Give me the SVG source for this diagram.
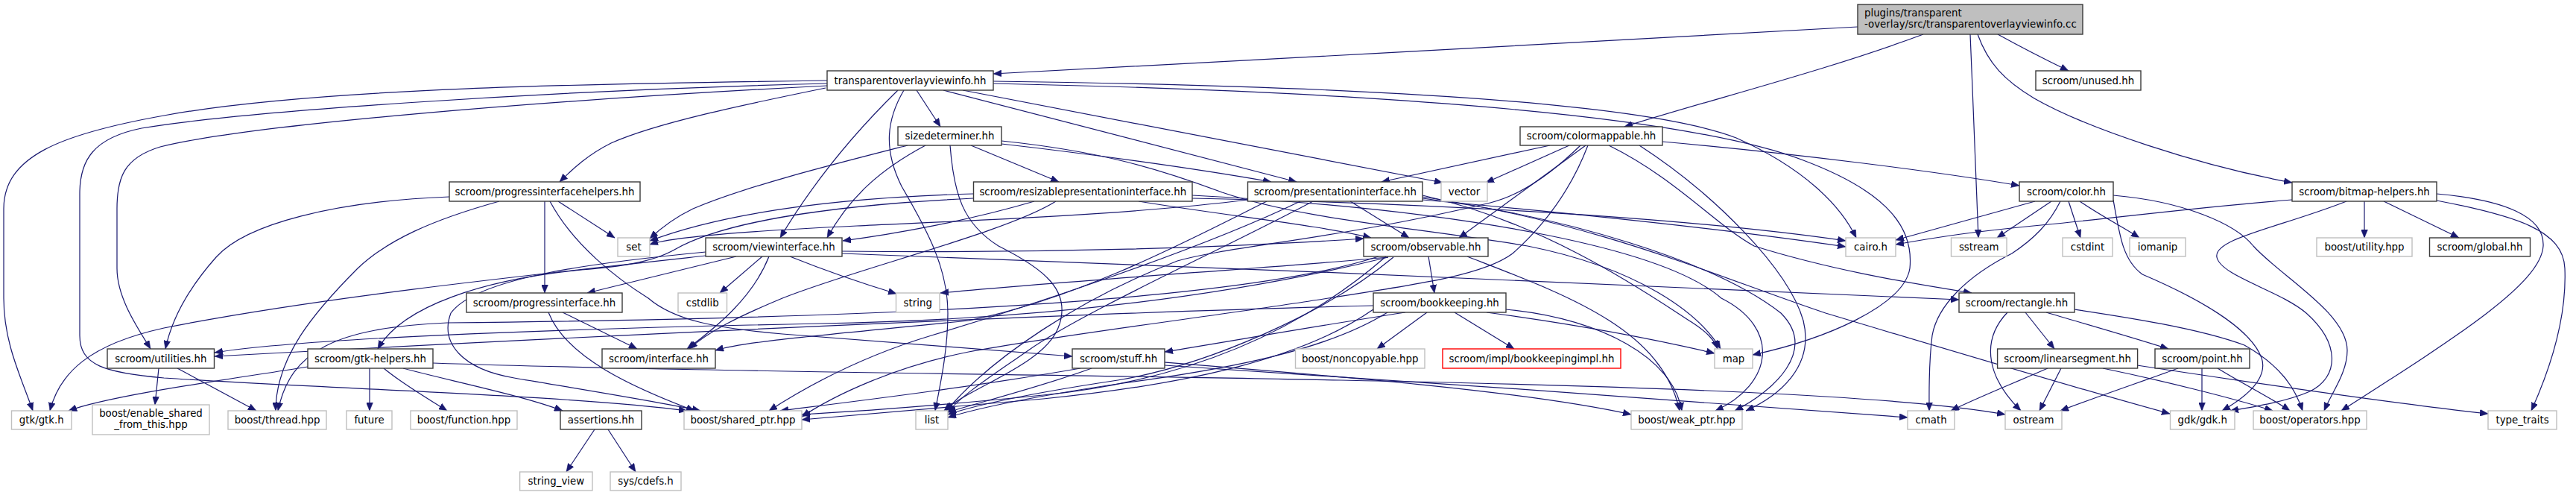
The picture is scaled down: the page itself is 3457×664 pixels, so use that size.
<svg xmlns="http://www.w3.org/2000/svg" width="3457" height="664" viewBox="0 0 3457 664">
<defs>
<style>
.n rect{fill:#fff;stroke:#3a3a3a;stroke-width:1.4}
.s rect{fill:#fff;stroke:#bfbfbf;stroke-width:1.4}
.r rect{fill:#fff;stroke:#ff0000;stroke-width:1.4}
.m rect{fill:#bfbfbf;stroke:#3a3a3a;stroke-width:1.4}
text{font-family:"DejaVu Sans","Liberation Sans",sans-serif;font-size:13.33px;text-anchor:middle;fill:#000}
.m text{text-anchor:start}
#edges path{fill:none;stroke:#191970;stroke-width:1.2;marker-end:url(#ah)}
</style>
<marker id="ah" viewBox="0 0 11 9" refX="11" refY="4.5" markerWidth="11" markerHeight="9" markerUnits="userSpaceOnUse" orient="auto"><path d="M0,0L11,4.5L0,9z" fill="#191970" stroke="#191970" stroke-width="0.5"/></marker>
</defs>
<rect width="3457" height="664" fill="#fff"/>
<g id="edges">
<path d="M2493,36 C2150,55 1700,80 1333,99"/>
<path d="M2581,46 C2450,95 2290,135 2180,170"/>
<path d="M2644,46 C2648,140 2652,240 2655,319"/>
<path d="M2681,46 C2710,62 2745,80 2776,95"/>
<path d="M2654,46 C2668,85 2690,108 2730,132 C2800,172 2950,222 3076,245"/>
<path d="M1110,108 C800,112 420,118 220,155 C80,180 5,210 5,280 L5,400 C5,460 28,505 44,551"/>
<path d="M1110,112 C720,122 320,150 190,172 C125,185 107,215 107,260 L107,450 C107,490 140,500 220,507 C450,522 760,530 922,551"/>
<path d="M1110,115 C720,135 330,168 215,197 C165,212 157,240 157,280 L157,360 C157,400 185,440 202,468"/>
<path d="M1108,118 C1000,140 880,165 820,192 C790,207 770,225 751,244"/>
<path d="M1230,121 L1262,170"/>
<path d="M1205,121 C1160,165 1100,230 1047,319"/>
<path d="M1213,121 C1190,160 1185,200 1210,250 C1245,310 1272,360 1272,420 C1272,470 1262,515 1255,551"/>
<path d="M1266,121 L1740,244"/>
<path d="M1292,121 L1936,245"/>
<path d="M1333,109 C1800,115 2200,135 2330,185 C2420,225 2470,275 2491,319"/>
<path d="M1333,112 C1800,122 2250,150 2420,215 C2540,260 2568,310 2563,360 C2555,410 2450,455 2352,476"/>
<path d="M1218,195 C1120,220 1000,250 930,280 C905,292 888,305 872,320"/>
<path d="M1242,195 C1180,228 1140,265 1110,319"/>
<path d="M1275,195 C1280,260 1292,300 1340,330 C1400,360 1440,390 1420,440 C1400,490 1300,520 1267,551"/>
<path d="M1303,195 L1421,244"/>
<path d="M1344,193 C1450,205 1600,225 1706,244"/>
<path d="M1344,189 C1480,203 1560,228 1640,258 C1750,295 1900,305 2050,330 C2200,360 2280,420 2309,468"/>
<path d="M1306,260 C1100,266 960,290 872,323"/>
<path d="M1306,266 C1100,276 965,300 905,335 C875,352 830,358 780,362 C650,375 540,410 507,468"/>
<path d="M1388,270 C1300,296 1200,314 1131,323"/>
<path d="M1417,270 C1350,312 1150,360 1050,400 C990,425 950,445 925,468"/>
<path d="M1528,270 C1650,290 1770,302 1840,319"/>
<path d="M1600,266 C1900,272 2250,290 2477,323"/>
<path d="M1600,262 C1950,280 2230,330 2310,400 C2390,440 2380,515 2302,551"/>
<path d="M1674,268 C1500,290 1250,298 1150,303 C1000,310 900,318 872,328"/>
<path d="M1812,270 L1891,319"/>
<path d="M1909,268 C2100,285 2300,305 2477,331"/>
<path d="M1909,262 C2080,300 2220,400 2270,432 C2290,445 2300,455 2305,468"/>
<path d="M1909,266 C2100,290 2300,350 2390,420 C2440,470 2380,525 2328,551"/>
<path d="M1909,264 C2150,300 2300,370 2450,420 C2650,480 2820,530 2912,555"/>
<path d="M1762,270 C1650,330 1450,420 1380,470 C1330,505 1290,530 1272,553"/>
<path d="M1745,270 C1600,340 1350,420 1250,450 C1150,480 1080,520 1032,551"/>
<path d="M1700,270 C1600,320 1450,400 1300,430 C1100,450 1000,458 960,470"/>
<path d="M988,344 L788,393"/>
<path d="M1023,344 L966,393"/>
<path d="M1032,344 C1010,400 960,440 922,468"/>
<path d="M1060,344 C1100,360 1150,378 1203,394"/>
<path d="M947,343 C700,370 420,400 220,440 C120,462 80,500 67,551"/>
<path d="M947,338 C800,352 640,372 605,420 C590,460 620,495 690,507 C790,524 890,540 940,551"/>
<path d="M1130,337 C1400,340 1650,332 1830,320"/>
<path d="M1130,340 C1600,355 2200,385 2629,402"/>
<path d="M1917,344 L1925,393"/>
<path d="M1863,345 C1700,385 1450,428 1100,434 C800,440 420,452 288,473"/>
<path d="M1870,345 C1780,420 1620,490 1500,510 C1400,525 1320,540 1272,556"/>
<path d="M1860,344 C1750,440 1600,510 1400,530 C1250,545 1150,552 1076,556"/>
<path d="M1969,344 C2100,395 2230,440 2254,551"/>
<path d="M1863,345 C1700,360 1450,375 1262,393"/>
<path d="M1850,344 C1650,410 1100,428 600,433 C450,440 390,470 373,551"/>
<path d="M1915,419 L1848,468"/>
<path d="M1952,419 L2032,468"/>
<path d="M1995,419 C2150,440 2250,462 2301,474"/>
<path d="M2021,415 C2150,428 2245,480 2257,551"/>
<path d="M1886,419 C1750,440 1650,458 1563,472"/>
<path d="M1862,419 C1780,470 1650,495 1500,515 C1400,530 1320,545 1272,560"/>
<path d="M1843,410 C1500,418 900,445 288,478"/>
<path d="M1843,415 C1750,480 1600,515 1400,535 C1250,548 1150,556 1076,563"/>
<path d="M1465,494 C1400,518 1320,538 1272,553"/>
<path d="M1450,494 C1300,520 1150,538 1047,551"/>
<path d="M1563,490 C1850,508 2300,540 2560,560"/>
<path d="M1563,486 C1800,505 2050,525 2189,556"/>
<path d="M413,492 C300,510 150,530 92,551"/>
<path d="M496,494 L496,551"/>
<path d="M515,494 C540,515 575,535 600,551"/>
<path d="M541,494 C600,510 700,530 755,551"/>
<path d="M581,487 C900,498 1400,502 1800,510 C2200,518 2550,530 2691,556"/>
<path d="M213,494 L208,543"/>
<path d="M238,494 L344,551"/>
<path d="M603,264 C450,270 330,300 290,345 C250,390 230,430 222,468"/>
<path d="M670,270 C580,295 520,322 480,360 C420,420 370,480 370,551"/>
<path d="M749,270 L825,319"/>
<path d="M731,270 L731,393"/>
<path d="M738,270 C770,330 830,375 870,400 C905,430 960,440 1050,448 C1200,460 1350,472 1439,478"/>
<path d="M755,419 L855,468"/>
<path d="M736,419 C760,480 850,520 932,551"/>
<path d="M798,576 L760,633"/>
<path d="M816,576 L853,633"/>
<path d="M2080,195 L1854,244"/>
<path d="M2106,195 L1994,245"/>
<path d="M2128,195 L1958,319"/>
<path d="M2231,190 C2400,205 2600,230 2710,249"/>
<path d="M2159,195 C2250,240 2300,300 2354,330 C2450,360 2550,378 2646,393"/>
<path d="M2121,195 C2080,235 2040,262 2000,272 C1800,320 1650,330 1580,350 C1450,400 1330,480 1270,551"/>
<path d="M2131,195 C2110,250 2075,300 2030,340 C1990,370 1900,382 1750,405 C1600,428 1420,450 1300,472 C1200,492 1120,530 1076,559"/>
<path d="M2200,195 C2300,260 2400,360 2420,430 C2435,490 2390,530 2343,551"/>
<path d="M2731,270 L2544,322"/>
<path d="M2753,270 L2680,319"/>
<path d="M2776,270 L2792,319"/>
<path d="M2765,270 C2750,300 2730,320 2700,340 C2640,370 2600,410 2593,450 C2588,490 2589,520 2589,551"/>
<path d="M2791,270 C2820,290 2850,305 2871,319"/>
<path d="M2836,268 C2845,320 2850,350 2875,368 C2950,400 3020,440 3035,480 C3045,510 3010,535 2982,551"/>
<path d="M2836,262 C2930,270 3000,300 3024,330 C3060,370 3150,420 3150,470 C3150,500 3130,525 3119,551"/>
<path d="M3149,270 C3060,305 2970,320 2975,345 C2980,370 3060,390 3095,420 C3140,460 3140,505 3100,525 C3070,538 3030,545 2993,551"/>
<path d="M3270,260 C3360,268 3415,290 3413,330 C3410,380 3300,450 3142,551"/>
<path d="M3270,269 C3380,290 3440,310 3442,360 C3445,430 3420,500 3397,551"/>
<path d="M3076,268 C2950,278 2860,290 2760,300 C2650,310 2600,318 2544,328"/>
<path d="M3173,270 L3173,319"/>
<path d="M3199,270 L3300,319"/>
<path d="M2923,494 C2880,510 2820,530 2765,551"/>
<path d="M2955,494 L2955,551"/>
<path d="M2976,494 C3010,515 3050,535 3073,551"/>
<path d="M2718,419 L2757,468"/>
<path d="M2746,419 C2800,435 2860,452 2910,468"/>
<path d="M2694,419 C2655,460 2670,510 2712,551"/>
<path d="M2784,415 C2850,425 2950,440 3012,463 C3060,490 3080,520 3090,551"/>
<path d="M2748,494 C2700,515 2650,535 2618,551"/>
<path d="M2766,494 L2737,551"/>
<path d="M2822,494 C2900,510 3000,535 3050,551"/>
<path d="M2868,490 C3000,510 3200,540 3339,555"/>
</g>
<g id="n_main" class="m"><rect x="2493" y="6" width="302" height="40"/><text x="2502" y="22">plugins/transparent</text><text x="2502" y="37">-overlay/src/transparentoverlayviewinfo.cc</text></g>
<g id="n_tovi" class="n"><rect x="1110" y="95" width="223" height="26"/><text x="1221.5" y="112.6">transparentoverlayviewinfo.hh</text></g>
<g id="n_unused" class="n"><rect x="2732" y="95" width="141" height="26"/><text x="2802.5" y="112.6">scroom/unused.hh</text></g>
<g id="n_sizedet" class="n"><rect x="1205" y="170" width="139" height="25"/><text x="1274.5" y="187">sizedeterminer.hh</text></g>
<g id="n_colormappable" class="n"><rect x="2040" y="170" width="191" height="25"/><text x="2135.5" y="187">scroom/colormappable.hh</text></g>
<g id="n_pih" class="n"><rect x="603" y="244" width="256" height="26"/><text x="731" y="261.6">scroom/progressinterfacehelpers.hh</text></g>
<g id="n_rpi" class="n"><rect x="1306.5" y="244" width="293.5" height="26"/><text x="1453.25" y="261.6">scroom/resizablepresentationinterface.hh</text></g>
<g id="n_pi" class="n"><rect x="1674.5" y="244" width="234.5" height="26"/><text x="1791.75" y="261.6">scroom/presentationinterface.hh</text></g>
<g id="n_vector" class="s"><rect x="1934" y="244" width="62" height="26"/><text x="1965" y="261.6">vector</text></g>
<g id="n_color" class="n"><rect x="2710" y="244" width="126" height="26"/><text x="2773" y="261.6">scroom/color.hh</text></g>
<g id="n_bitmap" class="n"><rect x="3076" y="244" width="194" height="26"/><text x="3173" y="261.6">scroom/bitmap-helpers.hh</text></g>
<g id="n_set" class="s"><rect x="829" y="319" width="43" height="25"/><text x="850.5" y="336">set</text></g>
<g id="n_vi" class="n"><rect x="947" y="319" width="183" height="25"/><text x="1038.5" y="336">scroom/viewinterface.hh</text></g>
<g id="n_obs" class="n"><rect x="1830" y="319" width="167" height="25"/><text x="1913.5" y="336">scroom/observable.hh</text></g>
<g id="n_cairo" class="s"><rect x="2477" y="319" width="67" height="25"/><text x="2510.5" y="336">cairo.h</text></g>
<g id="n_sstream" class="s"><rect x="2618.5" y="319" width="74.5" height="25"/><text x="2655.75" y="336">sstream</text></g>
<g id="n_cstdint" class="s"><rect x="2768" y="319" width="67" height="25"/><text x="2801.5" y="336">cstdint</text></g>
<g id="n_iomanip" class="s"><rect x="2858" y="319" width="75" height="25"/><text x="2895.5" y="336">iomanip</text></g>
<g id="n_butility" class="s"><rect x="3109" y="319" width="128" height="25"/><text x="3173" y="336">boost/utility.hpp</text></g>
<g id="n_global" class="n"><rect x="3260.5" y="319" width="135" height="25"/><text x="3328" y="336">scroom/global.hh</text></g>
<g id="n_progi" class="n"><rect x="626" y="393" width="209" height="26"/><text x="730.5" y="410.6">scroom/progressinterface.hh</text></g>
<g id="n_cstdlib" class="s"><rect x="910" y="393" width="65.5" height="26"/><text x="942.75" y="410.6">cstdlib</text></g>
<g id="n_string" class="s"><rect x="1202.5" y="393" width="58.5" height="26"/><text x="1231.75" y="410.6">string</text></g>
<g id="n_bk" class="n"><rect x="1843" y="393" width="178" height="26"/><text x="1932" y="410.6">scroom/bookkeeping.hh</text></g>
<g id="n_rect" class="n"><rect x="2629" y="393" width="155" height="26"/><text x="2706.5" y="410.6">scroom/rectangle.hh</text></g>
<g id="n_util" class="n"><rect x="144" y="468" width="143.5" height="26"/><text x="215.75" y="485.6">scroom/utilities.hh</text></g>
<g id="n_gtkh" class="n"><rect x="413" y="468" width="168" height="26"/><text x="497" y="485.6">scroom/gtk-helpers.hh</text></g>
<g id="n_iface" class="n"><rect x="808" y="468" width="152" height="26"/><text x="884" y="485.6">scroom/interface.hh</text></g>
<g id="n_stuff" class="n"><rect x="1439" y="468" width="124" height="26"/><text x="1501" y="485.6">scroom/stuff.hh</text></g>
<g id="n_noncopy" class="s"><rect x="1738.5" y="468" width="173.5" height="26"/><text x="1825.25" y="485.6">boost/noncopyable.hpp</text></g>
<g id="n_bkimpl" class="r"><rect x="1936" y="468" width="239" height="26"/><text x="2055.5" y="485.6">scroom/impl/bookkeepingimpl.hh</text></g>
<g id="n_map" class="s"><rect x="2301" y="468" width="51" height="26"/><text x="2326.5" y="485.6">map</text></g>
<g id="n_linseg" class="n"><rect x="2680.6" y="468" width="188" height="26"/><text x="2774.6" y="485.6">scroom/linearsegment.hh</text></g>
<g id="n_point" class="n"><rect x="2892" y="468" width="127" height="26"/><text x="2955.5" y="485.6">scroom/point.hh</text></g>
<g id="n_gtk" class="s"><rect x="15.5" y="551" width="80.5" height="25"/><text x="55.75" y="568">gtk/gtk.h</text></g>
<g id="n_esft" class="s"><rect x="124" y="543" width="157" height="40"/><text x="202.5" y="558.5">boost/enable_shared</text><text x="202.5" y="573.5">_from_this.hpp</text></g>
<g id="n_thread" class="s"><rect x="306" y="551" width="132" height="25"/><text x="372" y="568">boost/thread.hpp</text></g>
<g id="n_future" class="s"><rect x="465" y="551" width="61" height="25"/><text x="495.5" y="568">future</text></g>
<g id="n_function" class="s"><rect x="551" y="551" width="143" height="25"/><text x="622.5" y="568">boost/function.hpp</text></g>
<g id="n_assertions" class="n"><rect x="752" y="551" width="109" height="25"/><text x="806.5" y="568">assertions.hh</text></g>
<g id="n_sptr" class="s"><rect x="918" y="551" width="158" height="25"/><text x="997" y="568">boost/shared_ptr.hpp</text></g>
<g id="n_list" class="s"><rect x="1229" y="551" width="43" height="25"/><text x="1250.5" y="568">list</text></g>
<g id="n_wptr" class="s"><rect x="2189" y="551" width="149" height="25"/><text x="2263.5" y="568">boost/weak_ptr.hpp</text></g>
<g id="n_cmath" class="s"><rect x="2560" y="551" width="63" height="25"/><text x="2591.5" y="568">cmath</text></g>
<g id="n_ostream" class="s"><rect x="2691" y="551" width="76" height="25"/><text x="2729" y="568">ostream</text></g>
<g id="n_gdk" class="s"><rect x="2912.5" y="551" width="86.5" height="25"/><text x="2955.75" y="568">gdk/gdk.h</text></g>
<g id="n_ops" class="s"><rect x="3024" y="551" width="152" height="25"/><text x="3100" y="568">boost/operators.hpp</text></g>
<g id="n_tt" class="s"><rect x="3339" y="551" width="92" height="25"/><text x="3385" y="568">type_traits</text></g>
<g id="n_string_view" class="s"><rect x="697.6" y="633" width="97.4" height="25"/><text x="746.3" y="650">string_view</text></g>
<g id="n_cdefs" class="s"><rect x="819" y="633" width="95" height="25"/><text x="866.5" y="650">sys/cdefs.h</text></g>
</svg>
